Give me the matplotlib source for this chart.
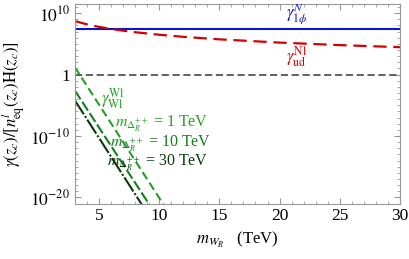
import numpy as np
import matplotlib
matplotlib.use('Agg')
import matplotlib.pyplot as plt
from matplotlib.ticker import FixedLocator, NullFormatter

plt.rc('font', family='Liberation Serif')
plt.rc('mathtext', fontset='stix')

# data (log10 of gamma / [n_eq H])
x_flat = [3, 30]
log_blue = [7.4, 7.4]
log_gray = [0.0, 0.0]

x_red = [3, 4, 5, 6, 7, 8, 10, 12, 15, 20, 25, 30]
log_red = [8.70, 8.17, 7.76, 7.42, 7.14, 6.89, 6.48, 6.14, 5.73, 5.20, 4.79, 4.45]

x_green = [3, 11]
log_g1 = [1.2, -23.1]    # m_Delta = 1 TeV
log_g2 = [-2.6, -26.6]   # m_Delta = 10 TeV
log_g3 = [-4.2, -28.6]   # m_Delta = 30 TeV

fig = plt.figure(figsize=(4.09, 2.59), dpi=100)
ax = fig.add_axes([0.183, 0.214, 0.795, 0.771])

ax.plot(x_flat, 10.0**np.array(log_blue), color='#0a14c8', lw=1.5)
ax.plot(x_red, 10.0**np.array(log_red), color='#d40000', lw=1.6, dashes=(6, 3))
ax.plot(x_flat, 10.0**np.array(log_gray), color='#555555', lw=1.3, dashes=(4, 2))
ax.plot(x_green, 10.0**np.array(log_g1), color='#22a022', lw=1.5, dashes=(4, 2))
ax.plot(x_green, 10.0**np.array(log_g2), color='#12801a', lw=1.5, dashes=(5, 1.5))
ax.plot(x_green, 10.0**np.array(log_g3), color='#0a3a0a', lw=1.5, dashes=(8, 1, 1, 1))

ax.set_yscale('log')
ax.set_xlim(3, 30)
ax.set_ylim(10**-21, 10**11.5)

ax.yaxis.set_major_locator(FixedLocator([1e-20, 1e-10, 1, 1e10]))
ax.set_yticklabels([r'$10^{-20}$', r'$10^{-10}$', '1', r'$10^{10}$'])
ax.yaxis.set_minor_locator(FixedLocator([10.0**k for k in range(-21, 12)]))
ax.yaxis.set_minor_formatter(NullFormatter())
ax.set_xticks([5, 10, 15, 20, 25, 30])
ax.xaxis.set_minor_locator(FixedLocator(np.arange(3, 31, 1)))

ax.tick_params(axis='both', which='both', direction='in', top=True, right=True,
               color='#999999', labelsize=12.5)
ax.tick_params(which='major', length=4)
ax.tick_params(which='minor', length=2)
for s in ax.spines.values():
    s.set_color('#999999')

ax.set_xlabel(r'$m_{W_R}$   (TeV)', fontsize=12)
ax.set_ylabel(r'$\gamma(z_c)/[n^l_{\rm eq}(z_c){\rm H}(z_c)]$', fontsize=12, labelpad=2)

ax.text(21.4, 10**9.9, r'$\gamma^{N}_{1\phi}$', color='#0a14c8', fontsize=12,
        ha='center', va='center')
ax.text(21.4, 10**2.8, r'$\gamma^{\rm Nl}_{\rm ud}$', color='#d40000', fontsize=12,
        ha='center', va='center')
ax.text(5.2, 10**-3.9, r'$\gamma^{\rm Wl}_{\rm Wl}$', color='#22a022', fontsize=12,
        ha='left', va='center')
ax.text(6.3, 10**-8.1, r'$m_{\Delta_R^{++}}$ = 1 TeV', color='#22a022', fontsize=11.5,
        ha='left', va='center')
ax.text(5.9, 10**-11.3, r'$m_{\Delta_R^{++}}$ = 10 TeV', color='#12801a', fontsize=11.5,
        ha='left', va='center')
ax.text(5.7, 10**-14.4, r'$m_{\Delta_R^{++}}$ = 30 TeV', color='#0a3a0a', fontsize=11.5,
        ha='left', va='center')

fig.savefig('out.png', dpi=100)
